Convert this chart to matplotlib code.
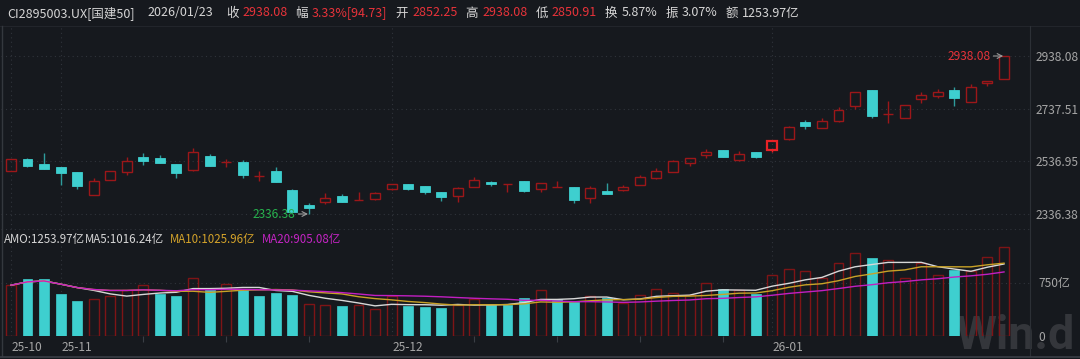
import matplotlib
matplotlib.use('Agg')
import matplotlib.pyplot as plt
import matplotlib.transforms as mtransforms
from matplotlib.lines import Line2D
import pandas as pd

plt.rcParams['font.family'] = ['Noto Sans CJK SC', 'DejaVu Sans']

# daily OHLC of CI2895003.UX, 61 trading days
open_ = [2499.0, 2547.0, 2526.8, 2515.4, 2496.4, 2409.9, 2465.9, 2495.2, 2552.3, 2548.5,
         2525.7, 2502.8, 2556.1, 2534.4, 2534.4, 2482.3, 2500.2, 2426.7, 2370.7, 2383.3,
         2403.8, 2389.6, 2392.4, 2430.5, 2449.5, 2441.9, 2419.1, 2403.8, 2440.4, 2459.4,
         2449.0, 2460.9, 2432.8, 2439.2, 2438.1, 2398.5, 2424.0, 2427.8, 2448.0, 2474.7,
         2495.2, 2531.8, 2561.1, 2580.2, 2540.9, 2571.4, 2579.0, 2620.9, 2685.6, 2665.1,
         2689.4, 2748.8, 2808.6, 2717.2, 2703.1, 2775.5, 2786.9, 2808.6, 2761.8, 2834.1,
         2852.25]
high = [2547.0, 2548.0, 2567.6, 2517.0, 2497.5, 2472.4, 2501.3, 2552.3, 2567.6, 2561.1,
        2527.0, 2588.9, 2563.8, 2544.7, 2542.0, 2501.3, 2514.3, 2430.5, 2377.2, 2415.2,
        2413.7, 2421.3, 2419.1, 2452.5, 2451.0, 2443.0, 2420.0, 2440.4, 2476.2, 2460.5,
        2452.0, 2461.5, 2454.0, 2463.2, 2439.0, 2443.0, 2455.6, 2446.8, 2483.8, 2510.4,
        2540.5, 2551.5, 2585.1, 2581.0, 2575.2, 2572.5, 2615.0, 2670.4, 2694.4, 2700.8,
        2745.0, 2801.5, 2809.5, 2767.9, 2752.0, 2801.0, 2812.4, 2821.2, 2831.5, 2843.8,
        2938.08]
low = [2499.0, 2517.0, 2506.0, 2446.8, 2432.8, 2408.5, 2465.9, 2484.9, 2524.2, 2529.5,
       2472.4, 2501.5, 2518.0, 2514.3, 2474.7, 2460.9, 2458.0, 2344.0, 2336.38, 2374.5,
       2381.0, 2388.5, 2391.0, 2429.5, 2426.7, 2412.6, 2387.1, 2383.3, 2439.5, 2444.2,
       2421.3, 2422.0, 2420.2, 2438.0, 2379.4, 2379.4, 2413.0, 2425.1, 2447.0, 2468.6,
       2494.5, 2519.2, 2550.8, 2553.8, 2540.0, 2548.5, 2572.5, 2620.0, 2658.9, 2664.0,
       2688.5, 2736.3, 2703.1, 2684.1, 2702.0, 2758.0, 2777.0, 2748.8, 2761.0, 2823.8,
       2850.91]
close = [2547.0, 2518.1, 2507.8, 2493.7, 2444.2, 2460.9, 2501.3, 2537.5, 2538.0, 2530.7,
         2493.7, 2573.7, 2519.2, 2534.4, 2486.1, 2482.3, 2459.4, 2345.2, 2359.3, 2396.2,
         2382.1, 2389.6, 2415.2, 2451.8, 2430.5, 2419.1, 2402.3, 2434.3, 2464.7, 2449.5,
         2449.0, 2422.9, 2453.3, 2439.2, 2389.6, 2436.6, 2413.7, 2439.2, 2476.2, 2499.0,
         2539.4, 2550.8, 2572.5, 2554.6, 2563.8, 2553.5, 2614.4, 2666.6, 2672.7, 2690.6,
         2732.4, 2801.0, 2708.5, 2717.2, 2751.5, 2788.4, 2799.9, 2777.0, 2821.2, 2843.35,
         2938.08]
# turnover (亿)
amo = [712, 806, 797, 594, 486, 514, 561, 641, 712, 585,
       566, 820, 641, 735, 641, 566, 608, 580, 453, 438,
       415, 429, 377, 561, 415, 410, 396, 429, 514, 429,
       438, 533, 651, 514, 476, 556, 533, 462, 570, 660,
       599, 570, 740, 665, 646, 585, 858, 938, 910, 816,
       1023, 1164, 1094, 1061, 816, 1028, 858, 929, 905, 1103, 1253.97]

month_idx = [0, 3, 23, 46]
month_labels = ['25-10', '25-11', '25-12', '26-01']
week_idx = [8, 13, 18, 28, 33, 38, 43]
selected_idx = 46

TXT = '#d6d6d6'
UPTXT = '#e8333a'
# (text, colour, gap in px before it)
header = [('CI2895003.UX[国建50]', TXT, 0), ('2026/01/23', TXT, 12),
          ('收', TXT, 13), ('2938.08', UPTXT, 4),
          ('幅', TXT, 8), ('3.33%[94.73]', UPTXT, 4),
          ('开', TXT, 8), ('2852.25', UPTXT, 4),
          ('高', TXT, 8), ('2938.08', UPTXT, 4),
          ('低', TXT, 8), ('2850.91', UPTXT, 4),
          ('换', TXT, 8), ('5.87%', TXT, 4),
          ('振', TXT, 8), ('3.07%', TXT, 4),
          ('额', TXT, 8), ('1253.97亿', TXT, 4)]
amo_text = [('AMO:1253.97亿', TXT, 0), ('MA5:1016.24亿', TXT, 0),
            ('MA10:1025.96亿', '#d4a32a', 6), ('MA20:905.08亿', '#c424c4', 6)]

W, H = 1080, 359
BG = '#16191e'
RED = '#9c1719'
CYAN = '#3ecfcf'
CYAN_WICK = '#2e9c9c'
GRID = '#30343b'
LABEL = '#a6a6a6'


def px_rect(left, top, right, bottom):
    return [left / W, 1 - bottom / H, (right - left) / W, (bottom - top) / H]


def flow_text(fig, items, x0, y, size):
    """Place text pieces one after another on a line (pixel positions)."""
    renderer = fig.canvas.get_renderer()
    x = x0
    for txt, col, gap in items:
        x += gap
        t = fig.text(x / W, 1 - y / H, txt, ha='left', va='center', color=col, fontsize=size)
        x = t.get_window_extent(renderer).x1


fig = plt.figure(figsize=(W / 100, H / 100), dpi=100, facecolor=BG)
ax_p = fig.add_axes(px_rect(1, 26, 1030, 229))
ax_v = fig.add_axes(px_rect(1, 229, 1030, 336))
n = len(close)

for ax in (ax_p, ax_v):
    ax.set_facecolor('none')
    ax.set_xlim(-0.6, n + 0.57)
    for s in ax.spines.values():
        s.set_visible(False)
    for i in month_idx:
        ax.axvline(i, color=GRID, lw=0.8, ls=(0, (1, 3)), zorder=0)

# candles
for i in range(n):
    o, h, l, c = open_[i], high[i], low[i], close[i]
    lo_b, hi_b = min(o, c), max(o, c)
    if c >= o:
        col = '#e82226' if i == selected_idx else RED
        lw = 1.6 if i == selected_idx else 1.0
        ax_p.vlines(i, l, lo_b, color=col, lw=1.0)
        ax_p.vlines(i, hi_b, h, color=col, lw=1.0)
        ax_p.bar(i, hi_b - lo_b, bottom=lo_b, width=0.6, facecolor='none',
                 edgecolor=col, lw=lw, zorder=3)
    else:
        ax_p.vlines(i, l, h, color=CYAN_WICK, lw=1.0)
        ax_p.bar(i, hi_b - lo_b, bottom=lo_b, width=0.6, color=CYAN,
                 edgecolor=CYAN, lw=0.6, zorder=3)

lo, hi = min(low), max(high)
f_hi, f_lo = (229 - 56) / 203, (229 - 214) / 203
span = (hi - lo) / (f_hi - f_lo)
ymin = lo - f_lo * span
ax_p.set_ylim(ymin, ymin + span)
levels = [lo + k * (hi - lo) / 3 for k in range(4)]
for v in levels:
    ax_p.axhline(v, color=GRID, lw=0.8, ls=(0, (1, 3)), zorder=0)
ax_p.yaxis.tick_right()
ax_p.set_yticks(levels)
ax_p.set_yticklabels([f'{v:.2f}' for v in levels])
ax_p.tick_params(axis='y', length=0, pad=4, labelsize=8.6, labelcolor=LABEL)
ax_p.set_xticks([])

i_hi, i_lo = high.index(hi), low.index(lo)
ax_p.annotate(f'{hi:.2f}', xy=(i_hi - 0.05, hi), xytext=(-9, 0), textcoords='offset points',
              ha='right', va='center', color=UPTXT, fontsize=8.6,
              arrowprops=dict(arrowstyle='->', color='#9a9a9a', lw=0.8, shrinkA=0, shrinkB=0))
ax_p.annotate(f'{lo:.2f}', xy=(i_lo - 0.05, lo), xytext=(-9, 0), textcoords='offset points',
              ha='right', va='center', color='#27b24e', fontsize=8.6,
              arrowprops=dict(arrowstyle='->', color='#9a9a9a', lw=0.8, shrinkA=0, shrinkB=0))

# turnover bars, coloured by close against previous close
for i in range(n):
    ref = open_[i] if i == 0 else close[i - 1]
    if close[i] >= ref:
        ax_v.bar(i, amo[i], width=0.6, facecolor='none', edgecolor='#7e1416', lw=1.0, zorder=3)
    else:
        ax_v.bar(i, amo[i], width=0.6, color=CYAN, edgecolor=CYAN, lw=0.5, zorder=3)

s = pd.Series(amo)
ax_v.plot(range(n), s.rolling(5, min_periods=1).mean(), color='#d8d8d8', lw=1.0, zorder=4)
ax_v.plot(range(n), s.rolling(10, min_periods=1).mean(), color='#c9a227', lw=1.0, zorder=4)
ax_v.plot(range(n), s.rolling(20, min_periods=1).mean(), color='#c21fc2', lw=1.0, zorder=4)

ax_v.set_ylim(0, 1500)
for v in (0, 750, 1500):
    ax_v.axhline(v, color=GRID, lw=0.8, ls=(0, (1, 3)), zorder=0)
ax_v.yaxis.tick_right()
ax_v.set_yticks([0, 750])
ax_v.set_yticklabels(['0', '750亿'])
ax_v.tick_params(axis='y', length=0, pad=6, labelsize=8.6, labelcolor=LABEL)
ax_v.set_xticks(week_idx)
ax_v.set_xticklabels([])
ax_v.tick_params(axis='x', length=4, color='#3a3e45', direction='out')

tr = mtransforms.blended_transform_factory(ax_v.transData, ax_v.transAxes)
for i, lab in zip(month_idx, month_labels):
    ax_v.text(i + 0.03, -0.103, lab, transform=tr, ha='left', va='center',
              color=LABEL, fontsize=8.6)

flow_text(fig, amo_text, 4, 240, 8.3)
flow_text(fig, header, 7.5, 13, 9.0)

# frame lines
fig.add_artist(Line2D([0, 1], [1 - 26 / H] * 2, color='#22252b', lw=0.8))
fig.add_artist(Line2D([1030 / W] * 2, [1 - 356 / H, 1 - 26 / H], color='#2c3036', lw=0.8))
fig.add_artist(Line2D([1.5 / W] * 2, [1 - 356 / H, 1 - 26 / H], color='#34383e', lw=1.0))
fig.add_artist(Line2D([0, 1], [1 - 356.5 / H] * 2, color='#3a3e45', lw=1.2))

# watermark, sized to about 119 px wide
wm = ax_v.text(955 / W, 1 - 336 / H, 'Win.d', transform=fig.transFigure, ha='left',
               va='center', fontsize=30, fontweight='bold', family=['Roboto', 'DejaVu Sans'],
               color='#ffffff', alpha=0.13, zorder=1)
w = wm.get_window_extent(fig.canvas.get_renderer()).width
wm.set_fontsize(30 * 119 / w)

fig.savefig('out.png', dpi=100, facecolor=BG)
